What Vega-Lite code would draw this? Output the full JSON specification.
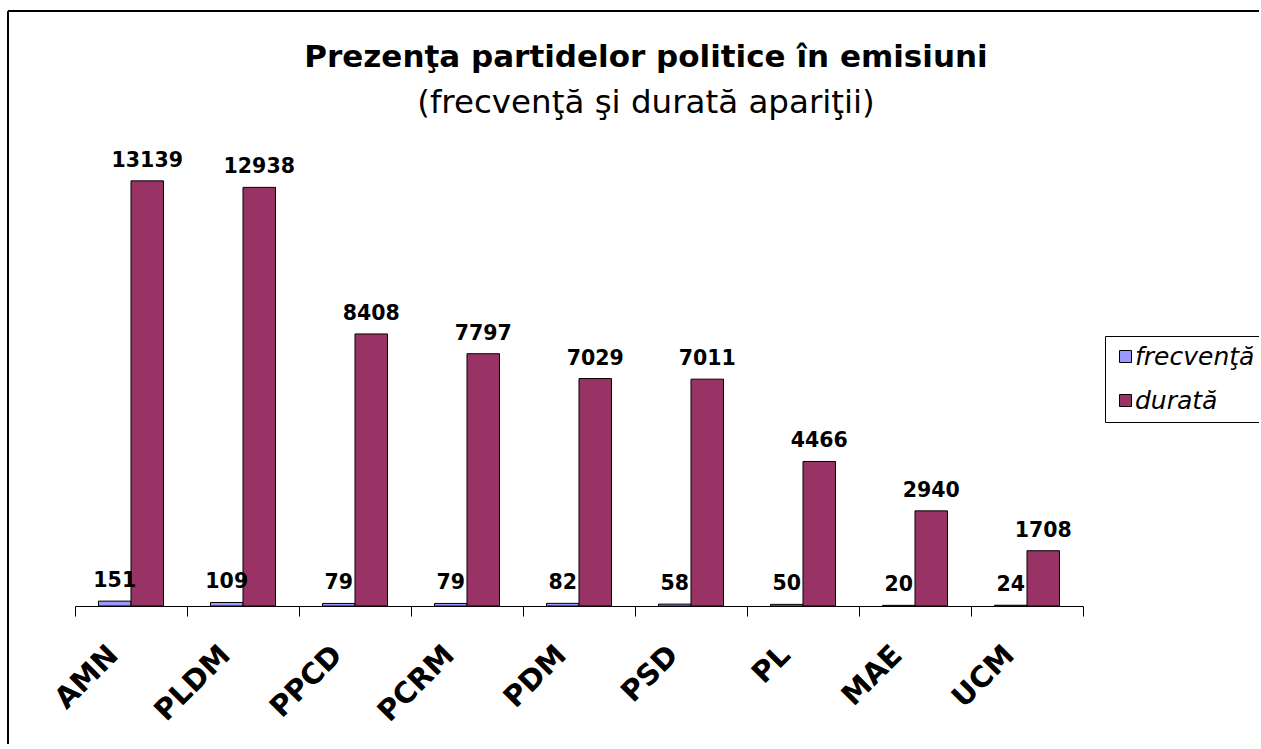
{
  "$schema": "https://vega.github.io/schema/vega-lite/v6.json",
  "autosize": {"type": "none"},
  "width": 1251,
  "height": 733,
  "padding": {"left": 8, "top": 11, "right": 0, "bottom": 0},
  "background": "white",
  "title": {
    "text": "Prezenţa partidelor politice în emisiuni",
    "subtitle": "(frecvenţă şi durată apariţii)",
    "anchor": "middle",
    "frame": "group",
    "dx": 12.5,
    "offset": -109,
    "font": "DejaVu Sans",
    "fontSize": 31,
    "fontWeight": "bold",
    "color": "black",
    "subtitleFont": "DejaVu Sans",
    "subtitleFontSize": 32.5,
    "subtitleColor": "black",
    "subtitlePadding": 13
  },
  "data": {
    "values": [
      {"partid": "AMN", "serie": "frecvenţă", "valoare": 151},
      {"partid": "AMN", "serie": "durată", "valoare": 13139},
      {"partid": "PLDM", "serie": "frecvenţă", "valoare": 109},
      {"partid": "PLDM", "serie": "durată", "valoare": 12938},
      {"partid": "PPCD", "serie": "frecvenţă", "valoare": 79},
      {"partid": "PPCD", "serie": "durată", "valoare": 8408},
      {"partid": "PCRM", "serie": "frecvenţă", "valoare": 79},
      {"partid": "PCRM", "serie": "durată", "valoare": 7797},
      {"partid": "PDM", "serie": "frecvenţă", "valoare": 82},
      {"partid": "PDM", "serie": "durată", "valoare": 7029},
      {"partid": "PSD", "serie": "frecvenţă", "valoare": 58},
      {"partid": "PSD", "serie": "durată", "valoare": 7011},
      {"partid": "PL", "serie": "frecvenţă", "valoare": 50},
      {"partid": "PL", "serie": "durată", "valoare": 4466},
      {"partid": "MAE", "serie": "frecvenţă", "valoare": 20},
      {"partid": "MAE", "serie": "durată", "valoare": 2940},
      {"partid": "UCM", "serie": "frecvenţă", "valoare": 24},
      {"partid": "UCM", "serie": "durată", "valoare": 1708}
    ]
  },
  "encoding": {
    "x": {
      "field": "partid",
      "type": "nominal",
      "sort": null,
      "scale": {"range": [67, 1075], "paddingInner": 0, "paddingOuter": 0},
      "axis": {
        "orient": "bottom",
        "offset": -138,
        "title": null,
        "grid": false,
        "domainColor": "black",
        "domainWidth": 1,
        "tickColor": "black",
        "tickWidth": 1,
        "tickSize": 10,
        "tickBand": "extent",
        "labelAngle": -45,
        "labelAlign": "right",
        "labelBaseline": "middle",
        "labelFont": "DejaVu Sans",
        "labelFontWeight": "bold",
        "labelFontSize": 29,
        "labelColor": "black",
        "labelOffset": -18,
        "labelPadding": 34
      }
    },
    "xOffset": {
      "field": "serie",
      "type": "nominal",
      "scale": {"domain": ["frecvenţă", "durată"], "paddingInner": 0, "paddingOuter": 0.723}
    },
    "y": {
      "field": "valoare",
      "type": "quantitative",
      "scale": {"domain": [0, 14000], "range": [595, 142]},
      "axis": null
    }
  },
  "layer": [
    {
      "mark": {"type": "bar", "stroke": "black", "strokeWidth": 1},
      "encoding": {
        "color": {
          "field": "serie",
          "type": "nominal",
          "scale": {"domain": ["frecvenţă", "durată"], "range": ["#9999FF", "#993366"]},
          "legend": {
            "orient": "none",
            "legendX": 1097,
            "legendY": 325,
            "title": null,
            "padding": 8,
            "strokeColor": "black",
            "fillColor": "white",
            "symbolType": "square",
            "symbolSize": 144,
            "symbolStrokeColor": "black",
            "symbolStrokeWidth": 1,
            "symbolOpacity": 1,
            "labelFont": "DejaVu Sans",
            "labelFontStyle": "italic",
            "labelFontSize": 25,
            "labelColor": "black",
            "labelOffset": -3,
            "rowPadding": 18,
            "labelLimit": 300
          }
        }
      }
    },
    {
      "mark": {
        "type": "text",
        "baseline": "alphabetic",
        "dy": -14,
        "font": "DejaVu Sans",
        "fontWeight": "bold",
        "fontSize": 20.5,
        "color": "black"
      },
      "encoding": {
        "text": {"field": "valoare", "type": "quantitative"}
      }
    }
  ],
  "config": {
    "view": {"stroke": "black", "strokeWidth": 2, "strokeDash": [1251, 1984, 733, 0]}
  }
}
